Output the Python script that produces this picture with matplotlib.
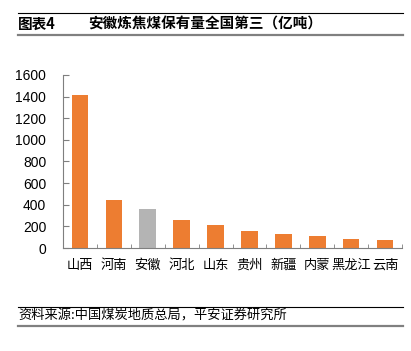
import matplotlib.pyplot as plt
import numpy as np

plt.rcParams['font.family'] = ['Liberation Sans', 'Noto Sans CJK SC', 'DejaVu Sans']

# coking coal reserves by province (100 million tonnes)
provinces = ['山西', '河南', '安徽', '河北', '山东', '贵州', '新疆', '内蒙', '黑龙江', '云南']
reserves = [1415, 444, 361, 259, 214, 160, 128, 113, 83, 70]
highlight = '安徽'
yticks = [0, 200, 400, 600, 800, 1000, 1200, 1400, 1600]

orange = '#ED7D31'
grey_bar = '#B4B4B4'
axis_grey = '#7F7F7F'

fig = plt.figure(figsize=(4.11, 3.51), dpi=100)
ax = fig.add_axes([63 / 411, 1 - 248 / 351, 339 / 411, 173 / 351])

x = np.arange(len(provinces))
colors = [grey_bar if p == highlight else orange for p in provinces]
ax.bar(x, reserves, width=0.49, color=colors, zorder=2)

ax.set_xlim(-0.5, len(provinces) - 0.5)
ax.set_ylim(0, 1600)
ax.set_yticks(yticks)
ax.set_yticklabels([str(v) for v in yticks], fontsize=10)
ax.set_xticks(x)
ax.set_xticklabels(provinces, fontsize=9.5, family=['Noto Sans CJK SC'])
ax.tick_params(axis='x', length=0, pad=8)
ax.tick_params(axis='y', direction='in', length=4, color=axis_grey, pad=12)
# category boundary ticks on the x axis
ax.set_xticks(np.arange(len(provinces) + 1) - 0.5, minor=True)
ax.tick_params(axis='x', which='minor', direction='in', length=3, color=axis_grey)

for side in ['top', 'right']:
    ax.spines[side].set_visible(False)
ax.spines['left'].set_color(axis_grey)
ax.spines['bottom'].set_color(axis_grey)
ax.spines['left'].set_linewidth(0.8)
ax.spines['bottom'].set_linewidth(0.8)

# header and footer rules
fig.add_artist(plt.Line2D([18 / 411, 403 / 411], [1 - 13 / 351] * 2, color='black', lw=0.8))
fig.add_artist(plt.Line2D([18 / 411, 403 / 411], [1 - 35 / 351] * 2, color='#808080', lw=1.6))
fig.add_artist(plt.Line2D([18 / 411, 403 / 411], [1 - 307 / 351] * 2, color='black', lw=0.8))
fig.add_artist(plt.Line2D([18 / 411, 403 / 411], [1 - 326 / 351] * 2, color='#808080', lw=1.6))

fig.text(18 / 411, 1 - 24 / 351, '图表4', fontsize=10.5, fontweight='bold',
         family=['Noto Sans CJK SC'], va='center', ha='left')
fig.text(88 / 411, 1 - 24 / 351, '安徽炼焦煤保有量全国第三（亿吨）', fontsize=10.5, fontweight='bold',
         family=['Noto Sans CJK SC'], va='center', ha='left')
fig.text(18 / 411, 1 - 316 / 351, '资料来源:中国煤炭地质总局，平安证券研究所', fontsize=9.5,
         style='italic', family=['Noto Sans CJK SC'], va='center', ha='left')

fig.savefig('out.png', dpi=100)
